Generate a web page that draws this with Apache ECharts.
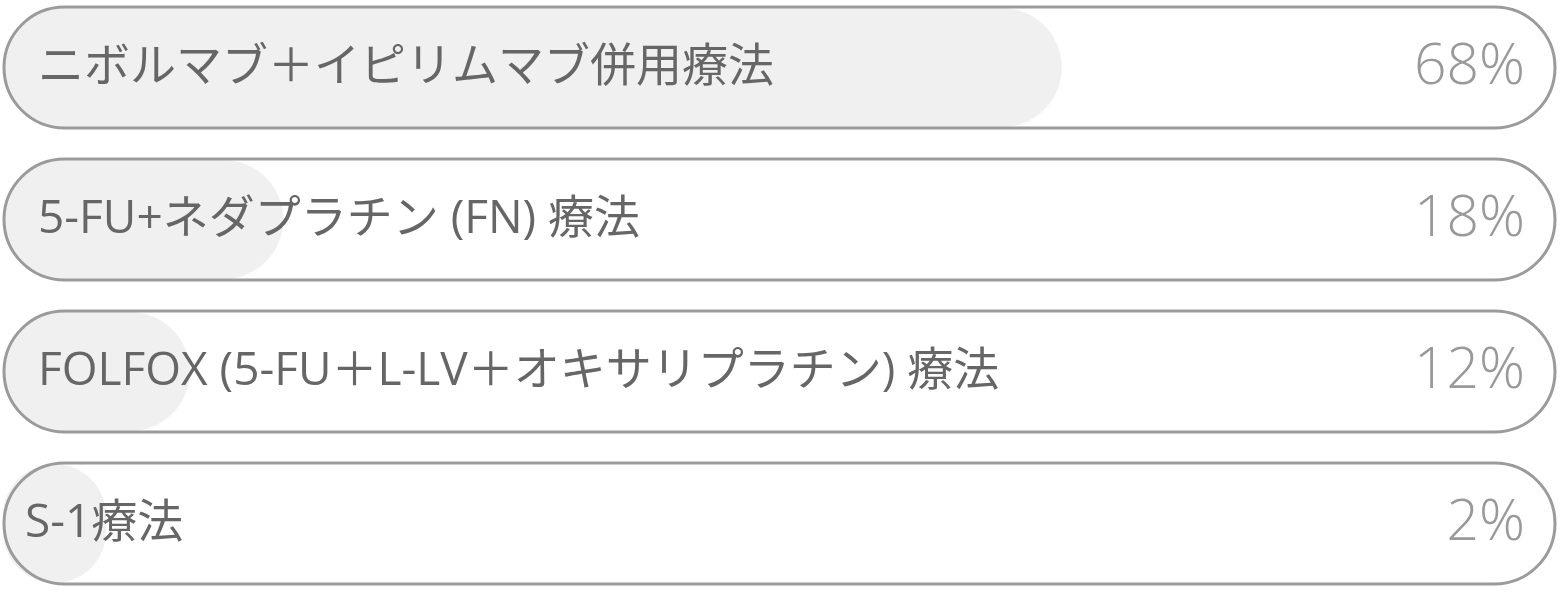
<!DOCTYPE html>
<html>
<head>
<meta charset="utf-8">
<script src="https://cdn.jsdelivr.net/npm/echarts@6/dist/echarts.min.js"></script>
<style>
html,body{margin:0;padding:0;background:#fff;}
#c{width:1560px;height:596px;}
</style>
</head>
<body>
<div id="c"></div>
<script>
const categories = [
  'ニボルマブ＋イピリムマブ併用療法',
  '5-FU+ネダプラチン (FN) 療法',
  'FOLFOX (5-FU＋L-LV＋オキサリプラチン) 療法',
  'S-1療法'
];
const values = [68, 18, 12, 2];
const fullValues = [100, 100, 100, 100];

const chart = echarts.init(document.getElementById('c'), null, {renderer: 'canvas'});
const fontFam = "'Open Sans', 'Noto Sans CJK JP', sans-serif";
// the last row's name sits closer to the left edge in the reference
const nameData = fullValues.map((v, i) =>
  i === fullValues.length - 1 ? {value: v, label: {distance: 22.5}} : v);

chart.setOption({
  animation: false,
  grid: [
    {left: 3, right: 0, top: -8.5, height: 608, outerBoundsMode: 'none', containLabel: false},
    {left: 2.5, right: 3.5, top: -8.5, height: 608, outerBoundsMode: 'none', containLabel: false}
  ],
  xAxis: [
    {gridIndex: 0, type: 'value', min: 0, max: 100, show: false},
    {gridIndex: 1, type: 'value', min: 0, max: 100, show: false}
  ],
  yAxis: [
    {gridIndex: 0, type: 'category', data: categories, inverse: true, show: false},
    {gridIndex: 1, type: 'category', data: categories, inverse: true, show: false}
  ],
  series: [
    {
      type: 'bar', xAxisIndex: 0, yAxisIndex: 0,
      data: values, barWidth: 119, barMinHeight: 103,
      itemStyle: {color: '#f0f0f0', borderRadius: 59.5},
      z: 1
    },
    {
      type: 'bar', xAxisIndex: 1, yAxisIndex: 1,
      data: fullValues, barWidth: 124,
      itemStyle: {color: 'rgba(0,0,0,0)', borderColor: '#9b9b9b', borderWidth: 3, borderRadius: 62},
      label: {
        show: true, position: 'insideRight', distance: 31.5,
        formatter: p => values[p.dataIndex] + '%',
        color: '#999999', fontSize: 57, fontWeight: 300, fontFamily: fontFam
      },
      z: 3
    },
    {
      type: 'bar', xAxisIndex: 1, yAxisIndex: 1, barGap: '-100%',
      data: nameData, barWidth: 124,
      itemStyle: {color: 'rgba(0,0,0,0)'},
      label: {
        show: true, position: 'insideLeft', distance: 35.5,
        formatter: p => categories[p.dataIndex],
        color: '#666666', fontSize: 46, fontFamily: fontFam
      },
      z: 4
    }
  ]
});
</script>
</body>
</html>
